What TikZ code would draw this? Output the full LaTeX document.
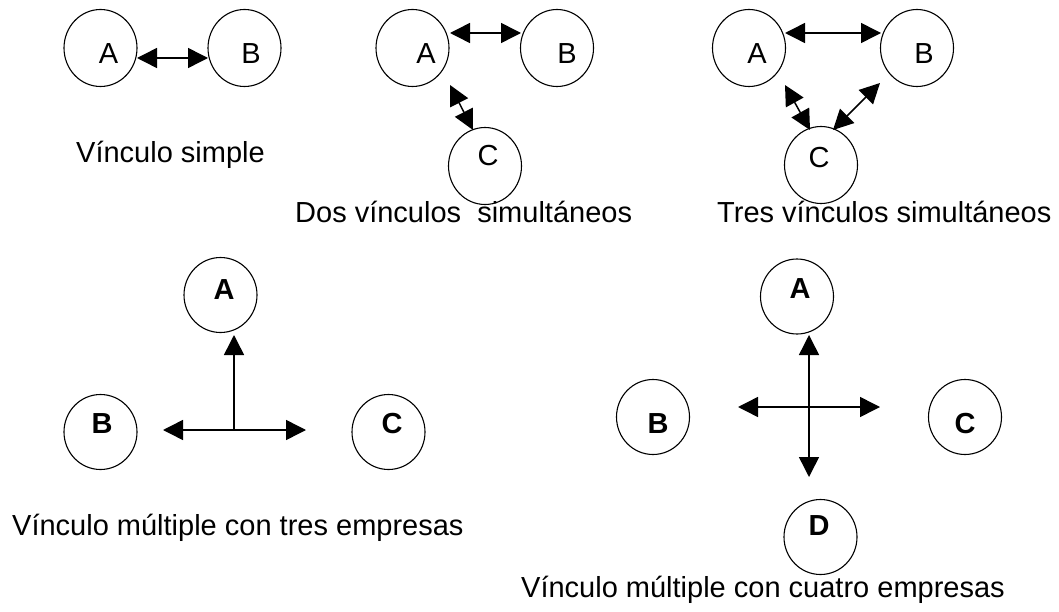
\documentclass[tikz,border=0pt]{standalone}
\usepackage{fontspec}
\setmainfont{Liberation Sans}
\usetikzlibrary{arrows.meta,shapes.geometric}
\begin{document}
\begin{tikzpicture}[x=1pt,y=-1pt,
  firm/.style={draw, ellipse, minimum width=73pt, minimum height=77pt, inner sep=0pt, line width=1.1pt},
  firmb/.style={firm, minimum height=75pt},
  lbl/.style={anchor=base, inner sep=0pt, font=\fontsize{29}{34}\selectfont},
  lblb/.style={anchor=base, inner sep=0pt, font=\fontsize{29}{34}\selectfont\bfseries},
  caption/.style={anchor=base west, inner sep=0pt, font=\fontsize{29}{34}\selectfont},
  link/.style={line width=1.5pt, {Triangle[length=20pt,width=20pt]}-{Triangle[length=20pt,width=20pt]}},
  ray/.style={line width=1.5pt, -{Triangle[length=20pt,width=20pt]}}]
\useasboundingbox (0,0) rectangle (1059,612);

% --- simple link
\node[firm] (sA) at (100.5,48) {};
\node[firm] (sB) at (244.5,48) {};
\node[lbl] (sAt) at (108.5,63.5) {A};
\node[lbl] (sBt) at (251,63.5) {B};
\coordinate (sAB1) at (137,58);
\coordinate (sAB2) at (208,58);
\draw[link] (sAB1) -- (sAB2);
\node[caption] (sCap) at (76,163) {Vínculo simple};

% --- two simultaneous links
\node[firm] (dA) at (412.5,48) {};
\node[firm] (dB) at (557,48) {};
\node[firm] (dC) at (485,166) {};
\node[lbl] (dAt) at (426,63.5) {A};
\node[lbl] (dBt) at (567,63.5) {B};
\node[lbl] (dCt) at (488,165.5) {C};
\coordinate (dAB1) at (450,33);
\coordinate (dAB2) at (521,33);
\coordinate (dAC1) at (450,85);
\coordinate (dAC2) at (473,130);
\draw[link] (dAB1) -- (dAB2);
\draw[link] (dAC1) -- (dAC2);
\node[caption] (dCap) at (295,223) {Dos vínculos\ \ simultáneos};

% --- three simultaneous links
\node[firm] (tA) at (749,48) {};
\node[firm] (tB) at (917,48) {};
\node[firm] (tC) at (821,165) {};
\node[lbl] (tAt) at (757,63.5) {A};
\node[lbl] (tBt) at (924,63.5) {B};
\node[lbl] (tCt) at (819,167.5) {C};
\coordinate (tAB1) at (785,33);
\coordinate (tAB2) at (881,33);
\coordinate (tAC1) at (785,85);
\coordinate (tAC2) at (810,130);
\coordinate (tBC1) at (880,83);
\coordinate (tBC2) at (833,130);
\draw[link] (tAB1) -- (tAB2);
\draw[link] (tAC1) -- (tAC2);
\draw[link] (tBC1) -- (tBC2);
\node[caption] (tCap) at (717,223) {Tres vínculos simultáneos};

% --- multiple link, three firms
\node[firmb] (mA) at (220.5,295) {};
\node[firmb] (mB) at (100.5,432) {};
\node[firmb] (mC) at (388.5,432) {};
\node[lblb] (mAt) at (224,299) {A};
\node[lblb] (mBt) at (102,433) {B};
\node[lblb] (mCt) at (392,433) {C};
\coordinate (mJ) at (234,430);
\coordinate (mUp) at (234,335);
\coordinate (mL) at (163,430);
\coordinate (mR) at (306,430);
\draw[ray] (mJ) -- (mUp);
\draw[link] (mL) -- (mR);
\node[caption] (mCap) at (12,535) {Vínculo múltiple con tres empresas};

% --- multiple link, four firms
\node[firmb] (qA) at (797,296.5) {};
\node[firmb] (qB) at (653,417) {};
\node[firmb] (qC) at (965,417) {};
\node[firmb] (qD) at (820.5,537) {};
\node[lblb] (qAt) at (800,298) {A};
\node[lblb] (qBt) at (658,433) {B};
\node[lblb] (qCt) at (965,433) {C};
\node[lblb] (qDt) at (819,535) {D};
\coordinate (qUp) at (809,335);
\coordinate (qDn) at (809,477);
\coordinate (qL) at (738,407);
\coordinate (qR) at (880,407);
\draw[link] (qUp) -- (qDn);
\draw[link] (qL) -- (qR);
\node[caption] (qCap) at (521,597) {Vínculo múltiple con cuatro empresas};
\end{tikzpicture}
\end{document}
